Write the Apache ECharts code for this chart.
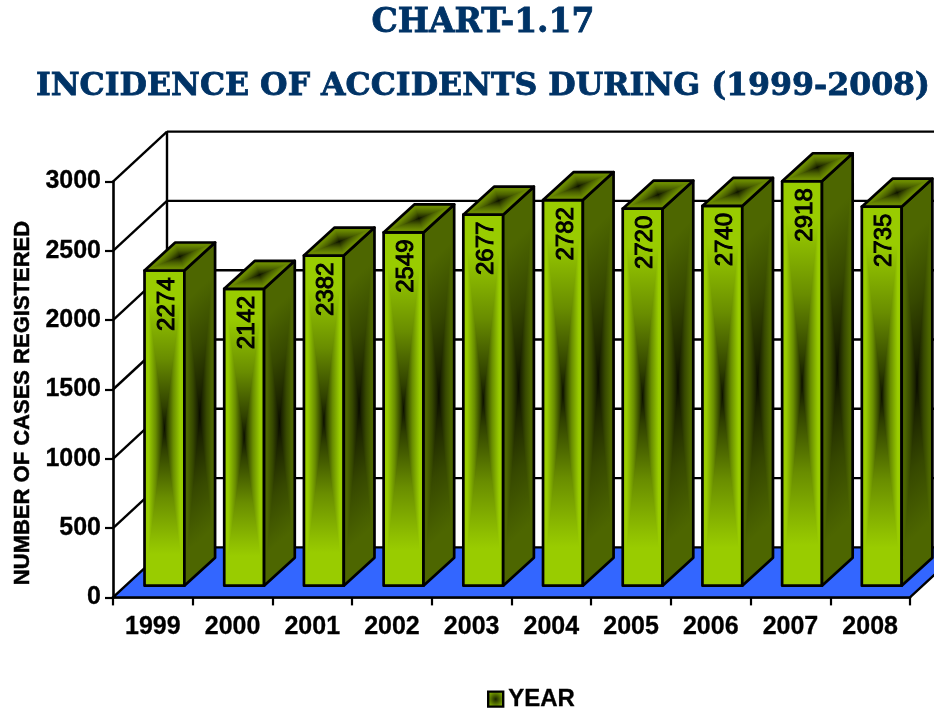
<!DOCTYPE html>
<html>
<head>
<meta charset="utf-8">
<style>html,body{margin:0;padding:0;background:#fff}#c{width:934px;height:709px}</style>
<script src="https://cdn.jsdelivr.net/npm/echarts@6/dist/echarts.min.js"></script>
</head>
<body>
<div id="c"></div>
<script>
var titleLine1 = 'CHART-1.17';
var titleLine2 = 'INCIDENCE OF ACCIDENTS DURING (1999-2008)';
var yAxisTitle = 'NUMBER OF CASES REGISTERED';
var seriesName = 'YEAR';
var years = ['1999','2000','2001','2002','2003','2004','2005','2006','2007','2008'];
var cases = [2274,2142,2382,2549,2677,2782,2720,2740,2918,2735];
var yTicks = [0,500,1000,1500,2000,2500,3000];

var WALL = [54, -50], BAR_SHIFT = [11.6, -11.7], BAR_DEPTH = [30.7, -28];
var SANS = '"Liberation Sans", Arial, sans-serif';
var RAMP = [[0,1],[0.1,1],[0.14,0.93],[0.28,0.66],[0.43,0.25],[0.5,0],[0.57,0.25],[0.72,0.66],[0.86,0.93],[0.9,1],[1,1]];

function stops(edge, mid) {
  return RAMP.map(function(r){
    return {offset:r[0],color:echarts.color.lerp(r[1],[mid,edge])};
  });
}
function grad(o, along, across, edge, mid) {
  var l = Math.hypot(across[0], across[1]);
  var n = [-across[1]/l, across[0]/l];
  var d = along[0]*n[0] + along[1]*n[1];
  return {type:'linear', global:true, x:o[0], y:o[1], x2:o[0]+n[0]*d, y2:o[1]+n[1]*d, colorStops:stops(edge, mid)};
}
function face(o, u, v, edge, mid) {
  var a=o, b=[o[0]+u[0],o[1]+u[1]], c=[b[0]+v[0],b[1]+v[1]], d=[o[0]+v[0],o[1]+v[1]];
  var m=[(a[0]+c[0])/2,(a[1]+c[1])/2];
  return [
    {type:'polygon',shape:{points:[a,b,c,d]},style:{fill:grad(o,v,u,edge,mid)}},
    {type:'polygon',shape:{points:[a,d,m]},style:{fill:grad(o,u,v,edge,mid)}},
    {type:'polygon',shape:{points:[b,c,m]},style:{fill:grad(o,u,v,edge,mid)}},
    {type:'polygon',shape:{points:[a,b,c,d]},style:{fill:'none',stroke:'#000',lineWidth:2.7,lineJoin:'round'}}
  ];
}
function renderBar(params, api) {
  var base = api.coord([api.value(0), 0]);
  var top = api.coord([api.value(0), api.value(1)]);
  var w = api.size([1,0])[0]*0.5;
  var x = base[0]-w/2+BAR_SHIFT[0], y0 = base[1]+BAR_SHIFT[1], y1 = top[1]+BAR_SHIFT[1];
  var h = y0-y1;
  var kids = []
    .concat(face([x,y0],[w,0],[0,-h],'#99cc00','#0d1200'))
    .concat(face([x+w,y0],BAR_DEPTH,[0,-h],'#4d6600','#0a0d00'))
    .concat(face([x,y1],[w,0],BAR_DEPTH,'#6b8a00','#0d1200'));
  kids.push({type:'text',x:x+w/2+3,y:y1+7,rotation:Math.PI/2,
    style:{text:String(api.value(1)),font:'24px '+SANS,fill:'#000',stroke:'#000',lineWidth:1,align:'right',verticalAlign:'middle'}});
  return {type:'group',children:kids};
}
function renderFrame(params, api) {
  var cs = params.coordSys, p = api.coord([0, api.value(1)]);
  var L = cs.x, R = cs.x+cs.width, y = p[1];
  var ls = {stroke:'#000',lineWidth:2.4,fill:'none'};
  var kids = [];
  if (api.value(1) === 0) {
    kids.push({type:'polygon',shape:{points:[[L,y],[R,y],[R+WALL[0],y+WALL[1]],[L+WALL[0],y+WALL[1]]]},
      style:{fill:'#3366ff',stroke:'#000',lineWidth:2.4}});
    kids.push({type:'line',shape:{x1:L+WALL[0],y1:y+WALL[1],x2:L+WALL[0],y2:cs.y+WALL[1]},style:ls});
  } else {
    kids.push({type:'line',shape:{x1:L,y1:y,x2:L+WALL[0],y2:y+WALL[1]},style:ls});
    kids.push({type:'line',shape:{x1:L+WALL[0],y1:y+WALL[1],x2:R+WALL[0],y2:y+WALL[1]},style:ls});
  }
  return {type:'group',children:kids};
}

var titleFont = function(size){
  return {fontFamily:'"DejaVu Serif"',fontWeight:'bold',fontSize:size,color:'#003366',textBorderColor:'#003366',textBorderWidth:0.8};
};
var axisFont = {color:'#000',fontFamily:SANS,fontWeight:'bold',fontSize:25,textBorderColor:'#000',textBorderWidth:0.3};

var chart = echarts.init(document.getElementById('c'), null, {renderer:'canvas'});
chart.setOption({
  animation:false,
  backgroundColor:'#fff',
  title:[
    {text:titleLine1,left:483,textAlign:'center',top:7,padding:0,textStyle:titleFont(33)},
    {text:titleLine2,left:483,textAlign:'center',top:71,padding:0,textStyle:titleFont(31.6)}
  ],
  grid:{left:113,right:24,top:181.6,bottom:111.6},
  legend:{data:[{name:seriesName,icon:'rect',itemStyle:{
      color:{type:'radial',x:0.5,y:0.5,r:0.6,colorStops:[{offset:0,color:'#1a2400'},{offset:1,color:'#99cc00'}]},
      borderColor:'#000',borderWidth:2.4}}],
    left:487,top:687,padding:0,itemWidth:15,itemHeight:15,itemGap:10,
    textStyle:{fontFamily:SANS,fontWeight:'bold',fontSize:24,color:'#000',textBorderColor:'#000',textBorderWidth:0.3},selectedMode:false},
  xAxis:{type:'category',data:years,boundaryGap:true,
    axisLine:{show:true,lineStyle:{color:'#000',width:2.6}},
    axisTick:{show:true,length:8,alignWithLabel:false,lineStyle:{color:'#000',width:2.2}},
    axisLabel:Object.assign({interval:0,margin:17},axisFont),
    splitLine:{show:false}},
  yAxis:{type:'value',min:0,max:3000,interval:500,
    axisLine:{show:true,lineStyle:{color:'#000',width:2.6}},
    axisTick:{show:true,length:8,lineStyle:{color:'#000',width:2.2}},
    axisLabel:Object.assign({margin:12,formatter:function(v){return String(v);}},axisFont),
    splitLine:{show:false}},
  graphic:[{type:'text',x:23,y:403,rotation:Math.PI/2,
    style:{text:yAxisTitle,font:'bold 22px '+SANS,fill:'#000',stroke:'#000',lineWidth:0.5,align:'center',verticalAlign:'middle'}}],
  series:[
    {type:'custom',name:'frame',coordinateSystem:'cartesian2d',clip:false,z:1,silent:true,
     data:yTicks.map(function(t){return [0,t];}),encode:{x:0,y:1},renderItem:renderFrame},
    {type:'custom',name:seriesName,coordinateSystem:'cartesian2d',clip:false,z:3,
     data:cases.map(function(v,i){return [i,v];}),encode:{x:0,y:1},renderItem:renderBar}
  ]
});
</script>
</body>
</html>
